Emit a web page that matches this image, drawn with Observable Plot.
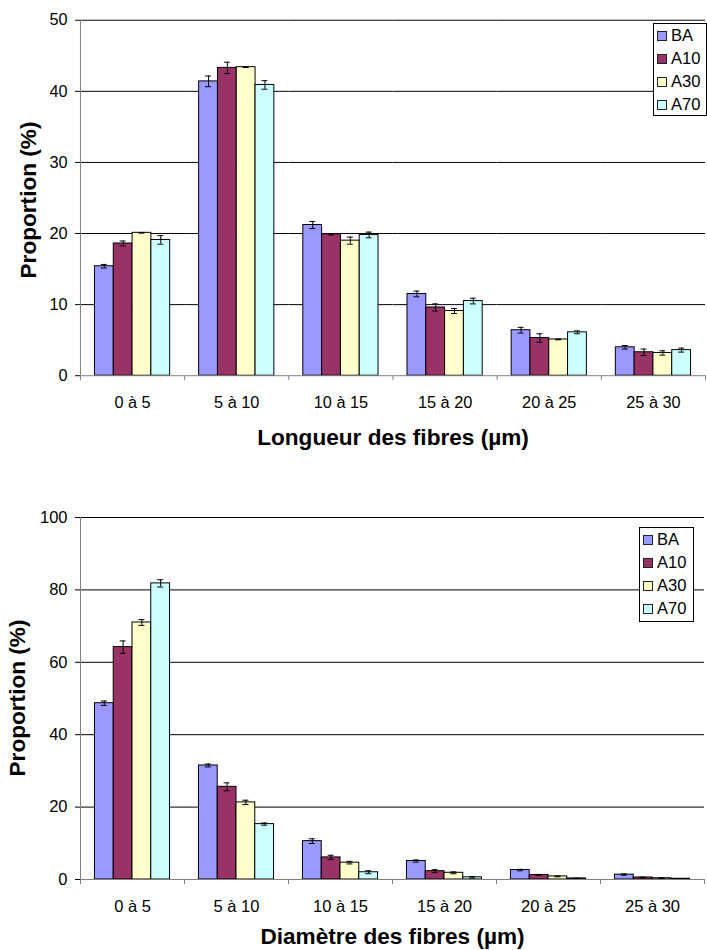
<!DOCTYPE html>
<html>
<head>
<meta charset="utf-8">
<script src="https://cdn.jsdelivr.net/npm/d3@7"></script>
<script src="https://cdn.jsdelivr.net/npm/@observablehq/plot@0.6"></script>
<style>
  body { margin:0; width:707px; height:950px; overflow:hidden; position:relative; background:#fff; font-family:"Liberation Sans", Arial, sans-serif; }
  .chart { position:absolute; left:0; }
  .xtitle { position:absolute; font-weight:bold; font-size:22.6px; line-height:22px; text-align:center; white-space:nowrap; }
  .ytitle { position:absolute; font-weight:bold; font-size:22.6px; line-height:22px; text-align:center; white-space:nowrap; width:300px; transform:rotate(-90deg); transform-origin:center center; }
  .legend { position:absolute; border:1px solid #000; background:#fff; box-sizing:border-box; font-size:16.6px; }
  .legend .row { display:flex; align-items:center; height:23.2px; }
  .legend .sw { width:10px; height:10px; border:1px solid #222; box-sizing:border-box; margin-left:3px; margin-right:4px; }
</style>
</head>
<body>
<div id="top" class="chart" style="top:0px"></div>
<div id="bottom" class="chart" style="top:497px"></div>
<div class="ytitle" style="left:-121px; top:189px;">Proportion (%)</div>
<div class="xtitle" style="left:0; width:786px; top:427px;">Longueur des fibres (µm)</div>
<div class="ytitle" style="left:-132px; top:687px;">Proportion (%)</div>
<div class="xtitle" style="left:0; width:785px; top:926px;">Diamètre des fibres (µm)</div>
<div id="legendTop" class="legend" style="left:653px; top:23px; width:54px; height:93px;"></div>
<div id="legendBottom" class="legend" style="left:639px; top:527px; width:55px; height:95px;"></div>
<script>
const categories = ["0 à 5", "5 à 10", "10 à 15", "15 à 20", "20 à 25", "25 à 30"];
const seriesNames = ["BA", "A10", "A30", "A70"];
const seriesColors = ["#9999FF", "#993366", "#FFFFCC", "#CCFFFF"];

// Longueur des fibres (%)
const lengthBA  = [15.4, 41.4, 21.2, 11.5, 6.4, 4.0];
const lengthA10 = [18.6, 43.3, 19.9, 9.6, 5.3, 3.3];
const lengthA30 = [20.1, 43.4, 19.0, 9.1, 5.1, 3.2];
const lengthA70 = [19.1, 40.9, 19.8, 10.5, 6.1, 3.6];
const lengthErrBA  = [0.25, 0.75, 0.5, 0.4, 0.4, 0.25];
const lengthErrA10 = [0.35, 0.8, 0.1, 0.5, 0.6, 0.45];
const lengthErrA30 = [0.05, 0.05, 0.5, 0.35, 0.05, 0.3];
const lengthErrA70 = [0.6, 0.6, 0.4, 0.4, 0.2, 0.28];
const lengthTicks = [0, 10, 20, 30, 40, 50];

// Diamètre des fibres (%)
const diamBA  = [48.7, 31.5, 10.6, 5.1, 2.6, 1.35];
const diamA10 = [64.2, 25.6, 6.1, 2.3, 1.25, 0.55];
const diamA30 = [71.0, 21.3, 4.65, 1.85, 0.85, 0.35];
const diamA70 = [81.8, 15.3, 2.0, 0.6, 0.3, 0.2];
const diamErrBA  = [0.6, 0.4, 0.65, 0.3, 0.2, 0.15];
const diamErrA10 = [1.7, 1.1, 0.6, 0.4, 0.15, 0.1];
const diamErrA30 = [0.8, 0.6, 0.35, 0.25, 0.1, 0.05];
const diamErrA70 = [1.0, 0.3, 0.4, 0.2, 0.05, 0.05];
const diamTicks = [0, 20, 40, 60, 80, 100];

function buildRows(valueArrays, errArrays) {
  const rows = [];
  categories.forEach((c, i) => {
    seriesNames.forEach((s, j) => {
      rows.push({category: c, series: s, value: valueArrays[j][i], err: errArrays[j][i]});
    });
  });
  return rows;
}

function makeChart({rows, ticks, width, marginLeft, marginRight, plotHeight}) {
  const marginTop = 20, marginBottom = 40;
  const po = 0.77;
  const facetW = (width - marginLeft - marginRight) / categories.length;
  const step = facetW / (seriesNames.length + 2 * po);
  const edge = step * (po + 0.5);
  const capInset = (step - 6) / 2;
  const gray = "#808080";
  return Plot.plot({
    width, height: marginTop + plotHeight + marginBottom,
    marginTop, marginBottom, marginLeft, marginRight,
    style: {fontFamily: "'Liberation Sans', Arial, sans-serif", fontSize: "16.5px", background: "transparent", color: "#000", overflow: "visible"},
    fx: {domain: categories, padding: 0, round: false, label: null, tickSize: 0, tickPadding: 21},
    x: {domain: seriesNames, paddingInner: 0, paddingOuter: po, round: false, axis: null},
    y: {domain: [ticks[0], ticks[ticks.length - 1]], ticks, tickSize: 5, tickPadding: 8, label: null},
    color: {domain: seriesNames, range: seriesColors},
    marks: [
      Plot.ruleY(ticks.filter(t => t > 0), {stroke: "#000", strokeWidth: 1}),
      Plot.barY(rows, {fx: "category", x: "series", y: "value", fill: "series", stroke: "#000", strokeWidth: 1}),
      Plot.ruleX(rows, {fx: "category", x: "series", y1: d => d.value - d.err, y2: d => d.value + d.err, stroke: "#000"}),
      Plot.tickY(rows, {fx: "category", x: "series", y: d => d.value - d.err, insetLeft: capInset, insetRight: capInset, stroke: "#000"}),
      Plot.tickY(rows, {fx: "category", x: "series", y: d => d.value + d.err, insetLeft: capInset, insetRight: capInset, stroke: "#000"}),
      Plot.ruleY([0], {stroke: gray}),
      // category boundary ticks (left edge of each facet)
      Plot.ruleX([seriesNames[0]], {x: d => d, dx: -edge, y1: 0, y2: 0, insetBottom: -5, stroke: gray}),
      // final boundary tick at right end
      Plot.ruleX([seriesNames[seriesNames.length - 1]], {x: d => d, fx: [categories[categories.length - 1]], dx: edge, y1: 0, y2: 0, insetBottom: -5, stroke: gray}),
      // left axis line
      Plot.ruleX([seriesNames[0]], {x: d => d, fx: [categories[0]], dx: -edge, stroke: gray})
    ]
  });
}

const topRows = buildRows([lengthBA, lengthA10, lengthA30, lengthA70], [lengthErrBA, lengthErrA10, lengthErrA30, lengthErrA70]);
const bottomRows = buildRows([diamBA, diamA10, diamA30, diamA70], [diamErrBA, diamErrA10, diamErrA30, diamErrA70]);

document.getElementById("top").appendChild(makeChart({rows: topRows, ticks: lengthTicks, width: 716, marginLeft: 81, marginRight: 2, plotHeight: 360}));
document.getElementById("bottom").appendChild(makeChart({rows: bottomRows, ticks: diamTicks, width: 707, marginLeft: 80, marginRight: 3, plotHeight: 362}));

function fillLegend(id) {
  const el = document.getElementById(id);
  seriesNames.forEach((s, j) => {
    const row = document.createElement("div");
    row.className = "row";
    const sw = document.createElement("div");
    sw.className = "sw";
    sw.style.background = seriesColors[j];
    const t = document.createElement("span");
    t.textContent = s;
    row.appendChild(sw);
    row.appendChild(t);
    el.appendChild(row);
  });
}
fillLegend("legendTop");
fillLegend("legendBottom");
</script>
</body>
</html>
